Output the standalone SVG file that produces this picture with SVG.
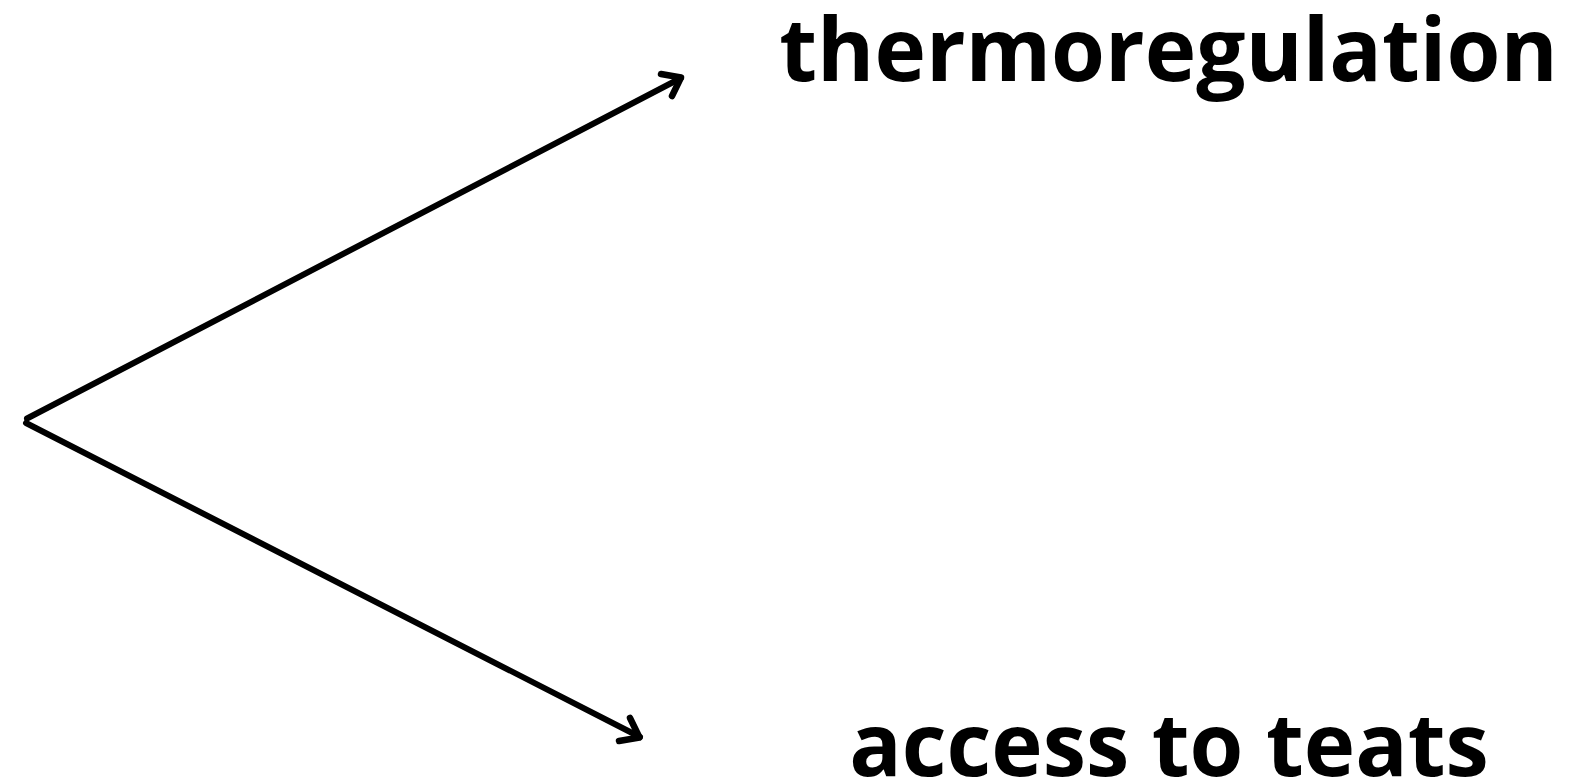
<svg xmlns="http://www.w3.org/2000/svg" width="1578" height="783" viewBox="0 0 1578 783">
<style>
.lbl{font-family:"Open Sans","Liberation Sans",sans-serif;font-weight:700;fill:#000}
.edge{fill:none;stroke:#000;stroke-width:6;stroke-linecap:round;stroke-linejoin:round}
.head{fill:none;stroke:#000;stroke-width:6.5;stroke-linecap:round;stroke-linejoin:round}
</style>
<rect width="1578" height="783" fill="#fff"/>
<g id="connectors">
<path class="edge" d="M27,418.5 L681,78"/>
<path class="head" d="M661,74 L681,77.5 L672,96"/>
<path class="edge" d="M26,423 L640,737"/>
<path class="head" d="M630,718 L639.5,737.5 L619,741"/>
</g>
<g id="node-thermoregulation">
<text class="lbl" x="1168.5" y="81" font-size="87.2" text-anchor="middle">thermoregulation</text>
</g>
<g id="node-access">
<text class="lbl" x="1169" y="776" font-size="87" text-anchor="middle">access to teats</text>
</g>
</svg>
